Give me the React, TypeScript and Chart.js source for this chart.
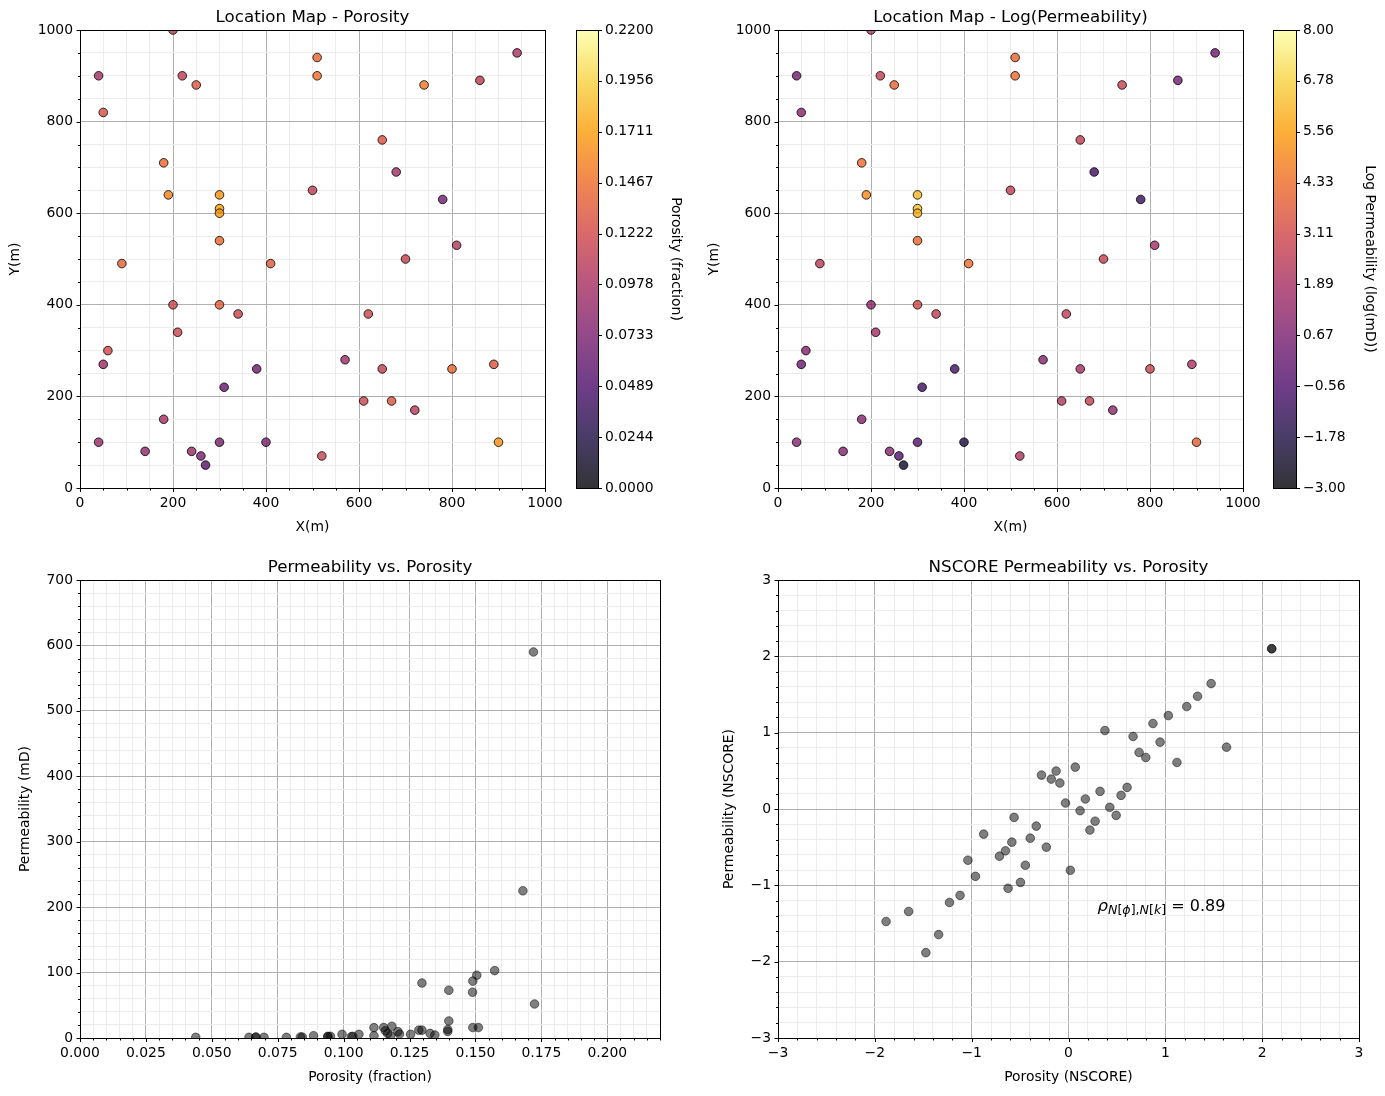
import React, { useEffect, useRef } from 'react';
import { Chart, registerables } from 'chart.js';

Chart.register(...registerables);

// ---------------- data ----------------
const wellX = [200, 40, 220, 250, 50, 510, 510, 740, 860, 940, 650, 180, 680, 190, 300, 300, 300, 500, 780, 300,
  810, 90, 410, 700, 200, 300, 340, 620, 210, 60, 50, 570, 380, 650, 800, 890, 310, 610, 670, 720,
  180, 40, 140, 240, 260, 270, 300, 400, 520, 900];
const wellY = [1000, 900, 900, 880, 820, 940, 900, 880, 890, 950, 760, 710, 690, 640, 640, 610, 600, 650, 630, 540,
  530, 490, 490, 500, 400, 400, 380, 380, 340, 300, 270, 280, 260, 260, 260, 270, 220, 190, 190, 170,
  150, 100, 80, 80, 70, 50, 100, 100, 70, 100];
const wellPorosity = [0.112, 0.095, 0.112, 0.132, 0.128, 0.142, 0.148, 0.152, 0.110, 0.100, 0.130, 0.143, 0.094, 0.158, 0.165, 0.172, 0.168, 0.112, 0.068, 0.143,
  0.105, 0.138, 0.133, 0.115, 0.120, 0.137, 0.118, 0.118, 0.120, 0.122, 0.092, 0.092, 0.065, 0.113, 0.142, 0.130, 0.062, 0.120, 0.130, 0.108,
  0.097, 0.090, 0.085, 0.090, 0.072, 0.055, 0.072, 0.072, 0.118, 0.165];
const wellLogPerm = [2.4, 0.4, 2.7, 4.1, 1.1, 4.1, 4.3, 2.8, 0.4, 0.3, 2.7, 4.3, -0.8, 5.0, 6.2, 6.4, 6.0, 2.7, -1.1, 4.2,
  1.8, 2.5, 4.3, 2.8, 1.2, 3.1, 2.6, 2.6, 1.8, 0.9, 0.3, 0.9, -0.8, 1.9, 2.9, 2.0, -0.9, 2.2, 2.7, 1.3,
  1.0, 1.0, 0.9, 1.0, -0.4, -2.3, -0.3, -1.8, 2.1, 3.9];

const crossPorosity = [0.0439, 0.0641, 0.0667, 0.0667, 0.0698, 0.0783, 0.0836, 0.0843, 0.0886, 0.094, 0.094, 0.095,
  0.0994, 0.1029, 0.1035, 0.1058, 0.1115, 0.1115, 0.1152, 0.1158, 0.1167, 0.1178, 0.1183, 0.1206, 0.1212, 0.1254,
  0.1285, 0.1297, 0.1297, 0.1328, 0.1346, 0.1395, 0.1395, 0.1399, 0.1399, 0.1489, 0.149, 0.1505, 0.149, 0.1511,
  0.1573, 0.1724, 0.168, 0.172];
const crossPerm = [1, 1, 1, 1.5, 1, 1, 1.5, 1.5, 3.5, 2.5, 2, 2.5,
  5.6, 2, 2.5, 5.6, 15.8, 3.5, 16, 11, 7, 3.5, 18, 9.7, 6, 5.6,
  12, 84, 12, 7, 4.6, 13, 10, 26, 73, 70, 87, 96, 16, 16,
  103, 52, 225, 590];

const nsPorosity = [2.097, 2.1, 1.473, 1.333, 1.221, 1.031, 0.872, 0.376, 0.667, 0.946, 0.729, 0.798, 1.632, 1.12,
  -0.279, -0.128, -0.178, -0.089, 0.07, 0.605, 0.326, 0.543, 0.174, -0.031, 0.426, 0.12, 0.492, -0.562, 0.275,
  0.221, -0.333, -0.876, -0.395, -0.585, -0.651, -0.713, -0.229, -1.039, 0.019, -0.446, -0.961, -0.496, -0.624,
  -1.12, -1.229, -1.651, -1.884, -1.341, -1.473];
const nsPerm = [2.1, 2.1, 1.643, 1.477, 1.342, 1.224, 1.12, 1.028, 0.95, 0.876, 0.741, 0.675, 0.81, 0.61,
  0.444, 0.497, 0.392, 0.34, 0.549, 0.283, 0.231, 0.179, 0.131, 0.078, 0.022, -0.022, -0.083, -0.11, -0.16,
  -0.276, -0.224, -0.329, -0.382, -0.434, -0.548, -0.618, -0.5, -0.671, -0.803, -0.737, -0.882, -0.961, -1.039,
  -1.132, -1.224, -1.342, -1.474, -1.645, -1.882];

const mapTicks = [0, 200, 400, 600, 800, 1000];
const porTicks = [0, 0.025, 0.05, 0.075, 0.1, 0.125, 0.15, 0.175, 0.2];
const permTicks = [0, 100, 200, 300, 400, 500, 600, 700];
const nsTicks = [-3, -2, -1, 0, 1, 2, 3];
const porCbTicks = [0, 0.0244, 0.0489, 0.0733, 0.0978, 0.1222, 0.1467, 0.1711, 0.1956, 0.22];
const permCbTicks = [-3, -1.78, -0.56, 0.67, 1.89, 3.11, 4.33, 5.56, 6.78, 8];
const rhoValue = '0.89';

// ---------------- styling helpers ----------------
const W = 1385;
const H = 1096;
const FAM = "'DejaVu Sans', 'Liberation Sans', sans-serif";
const TICK_PX = 13.9;
const TITLE_PX = 16.7;

const INFERNO = ['#000004', '#1b0c42', '#4b0c6b', '#781c6d', '#a52c60', '#cf4446', '#ed6925', '#fb9b06', '#f7d13d', '#fcffa4'];
const hex = (h: string) => [parseInt(h.slice(1, 3), 16), parseInt(h.slice(3, 5), 16), parseInt(h.slice(5, 7), 16)];
const INF_RGB = INFERNO.map(hex);
function inferno(t: number, a = 0.8) {
  const c = Math.max(0, Math.min(1, t)) * 9;
  const i = Math.min(8, Math.floor(c));
  const f = c - i;
  const p = INF_RGB[i], q = INF_RGB[i + 1];
  const r = Math.round(p[0] + (q[0] - p[0]) * f);
  const g = Math.round(p[1] + (q[1] - p[1]) * f);
  const b = Math.round(p[2] + (q[2] - p[2]) * f);
  return `rgba(${r},${g},${b},${a})`;
}

const minus = (s: string) => s.replace('-', '\u2212');

type Ax = { min: number; max: number; majors: number[]; step: number; fmt: (v: number) => string; all: number[]; isMajor: (v: number) => boolean };
function mkAx(min: number, max: number, majors: number[], step: number, fmt: (v: number) => string): Ax {
  const n = Math.round((max - min) / step);
  const all: number[] = [];
  for (let k = 0; k <= n; k++) all.push(+(min + k * step).toFixed(10));
  const isMajor = (v: number) => majors.some((m) => Math.abs(m - v) < step * 1e-3);
  return { min, max, majors, step, fmt, all, isMajor };
}

function scaleOpts(ax: Ax, pos: 'x' | 'y', size: number, title: string, titlePad: number) {
  return {
    type: 'linear',
    position: pos === 'x' ? 'bottom' : 'left',
    min: ax.min,
    max: ax.max,
    afterBuildTicks: (s: any) => { s.ticks = ax.all.map((v) => ({ value: v })); },
    afterFit: (s: any) => { if (pos === 'x') s.height = size; else s.width = size; },
    ticks: {
      autoSkip: false, maxRotation: 0, minRotation: 0, padding: 7,
      font: { family: FAM, size: TICK_PX }, color: '#000',
      callback: (v: any) => (ax.isMajor(+v) ? ax.fmt(+v) : ''),
    },
    grid: {
      drawTicks: false,
      lineWidth: 1,
      color: (c: any) => (c.tick && !ax.isMajor(c.tick.value) ? '#ececec' : '#b0b0b0'),
    },
    border: { display: false },
    title: {
      display: true, text: title, color: '#000',
      font: { family: FAM, size: TICK_PX },
      padding: pos === 'x' ? { top: 0, bottom: 0 } : { top: titlePad, bottom: 0 },
    },
  };
}

function framePlugin(id: string, title: string, xa: Ax, ya: Ax, extra?: (c: any) => void) {
  return {
    id,
    afterDraw(chart: any) {
      const { ctx, chartArea: a } = chart;
      const xs = chart.scales.x, ys = chart.scales.y;
      ctx.save();
      ctx.strokeStyle = '#000';
      ctx.lineWidth = 1;
      ctx.beginPath();
      xs.ticks.forEach((t: any) => {
        const p = Math.round(xs.getPixelForValue(t.value)) + 0.5;
        const len = xa.isMajor(t.value) ? 3.5 : 2;
        ctx.moveTo(p, Math.round(a.bottom));
        ctx.lineTo(p, Math.round(a.bottom) + len + 0.5);
      });
      ys.ticks.forEach((t: any) => {
        const p = Math.round(ys.getPixelForValue(t.value)) + 0.5;
        const len = ya.isMajor(t.value) ? 3.5 : 2;
        ctx.moveTo(Math.round(a.left) + 1, p);
        ctx.lineTo(Math.round(a.left) - len, p);
      });
      ctx.stroke();
      ctx.strokeRect(Math.round(a.left) + 0.5, Math.round(a.top) + 0.5,
        Math.round(a.right) - Math.round(a.left), Math.round(a.bottom) - Math.round(a.top));
      ctx.fillStyle = '#000';
      ctx.font = `${TITLE_PX}px ${FAM}`;
      ctx.textAlign = 'center';
      ctx.textBaseline = 'alphabetic';
      ctx.fillText(title, (a.left + a.right) / 2, a.top - 8);
      ctx.restore();
      if (extra) extra(chart);
    },
  };
}

function baseOptions(pad: { left: number; right: number; top: number; bottom: number }) {
  return {
    responsive: false,
    animation: false,
    devicePixelRatio: 1,
    events: [],
    layout: { padding: pad },
    plugins: { legend: { display: false }, tooltip: { enabled: false }, title: { display: false } },
  } as any;
}

function scatterChart(opts: {
  pad: any; xa: Ax; ya: Ax; xTitle: string; yTitle: string; yTitlePad: number; title: string;
  xs: number[]; ys: number[]; fill: any; border: string; radius: number; extra?: (c: any) => void; id: string;
}) {
  const o = baseOptions(opts.pad);
  o.scales = {
    x: scaleOpts(opts.xa, 'x', 48, opts.xTitle, 0),
    y: scaleOpts(opts.ya, 'y', 80, opts.yTitle, opts.yTitlePad),
  };
  return {
    type: 'scatter',
    data: {
      datasets: [{
        data: opts.xs.map((x, i) => ({ x, y: opts.ys[i] })),
        pointBackgroundColor: opts.fill,
        pointBorderColor: opts.border,
        pointBorderWidth: 1,
        pointRadius: opts.radius,
        showLine: false,
        clip: 0,
      }],
    },
    options: o,
    plugins: [framePlugin(opts.id, opts.title, opts.xa, opts.ya, opts.extra)],
  } as any;
}

function colorbarChart(opts: { pad: any; width: number; min: number; max: number; ticks: number[]; fmt: (v: number) => string; title: string; titlePad: number; id: string }) {
  const o = baseOptions(opts.pad);
  o.scales = {
    x: { display: false, min: 0, max: 1 },
    y: {
      type: 'linear', position: 'right', min: opts.min, max: opts.max,
      afterBuildTicks: (s: any) => { s.ticks = opts.ticks.map((v) => ({ value: v })); },
      afterFit: (s: any) => { s.width = opts.width; },
      ticks: { autoSkip: false, padding: 7, font: { family: FAM, size: TICK_PX }, color: '#000', callback: (v: any) => opts.fmt(+v) },
      grid: { display: false, drawTicks: false },
      border: { display: false },
      title: { display: true, text: opts.title, color: '#000', font: { family: FAM, size: TICK_PX }, padding: { top: opts.titlePad, bottom: 0 } },
    },
  };
  const plugin = {
    id: opts.id,
    beforeDraw(chart: any) {
      const { ctx, chartArea: a } = chart;
      const ys = chart.scales.y;
      ctx.save();
      const g = ctx.createLinearGradient(0, a.bottom, 0, a.top);
      INFERNO.forEach((_, k) => g.addColorStop(k / 9, inferno(k / 9)));
      ctx.fillStyle = g;
      ctx.fillRect(a.left, a.top, a.right - a.left, a.bottom - a.top);
      ctx.strokeStyle = '#000';
      ctx.lineWidth = 1;
      ctx.strokeRect(Math.round(a.left) + 0.5, Math.round(a.top) + 0.5,
        Math.round(a.right) - Math.round(a.left), Math.round(a.bottom) - Math.round(a.top));
      ctx.beginPath();
      ys.ticks.forEach((t: any) => {
        const p = Math.round(ys.getPixelForValue(t.value)) + 0.5;
        ctx.moveTo(Math.round(a.right), p);
        ctx.lineTo(Math.round(a.right) + 4, p);
      });
      ctx.stroke();
      ctx.restore();
    },
  };
  return { type: 'scatter', data: { datasets: [] }, options: o, plugins: [plugin] } as any;
}

function rhoAnnotation(chart: any) {
  const { ctx } = chart;
  const xs = chart.scales.x, ys = chart.scales.y;
  let cx = xs.getPixelForValue(0.3);
  const by = ys.getPixelForValue(-1.33);
  const sub = 12.6;
  const parts: [string, boolean, number, number][] = [
    ['\u03c1', true, 16.5, 0],
    ['N', true, sub, 3.5], ['[', false, sub, 3.5], ['\u03d5', true, sub, 3.5], ['],', false, sub, 3.5],
    ['N', true, sub, 3.5], ['[', false, sub, 3.5], ['k', true, sub, 3.5], [']', false, sub, 3.5],
    [' = ' + rhoValue, false, 16, 0],
  ];
  ctx.save();
  ctx.fillStyle = '#000';
  ctx.textAlign = 'left';
  ctx.textBaseline = 'alphabetic';
  parts.forEach(([t, it, sz, dy]) => {
    ctx.font = `${it ? 'italic ' : ''}${sz}px ${FAM}`;
    ctx.fillText(t, cx, by + dy);
    cx += ctx.measureText(t).width;
  });
  ctx.restore();
}

export default function App() {
  const r0 = useRef<HTMLCanvasElement>(null);
  const r1 = useRef<HTMLCanvasElement>(null);
  const r2 = useRef<HTMLCanvasElement>(null);
  const r3 = useRef<HTMLCanvasElement>(null);
  const r4 = useRef<HTMLCanvasElement>(null);
  const r5 = useRef<HTMLCanvasElement>(null);
  const refs = [r0, r1, r2, r3, r4, r5];

  useEffect(() => {
    Chart.defaults.font.family = FAM;
    Chart.defaults.color = '#000';
    const mapX = mkAx(0, 1000, mapTicks, 50, (v) => String(v));
    const mapY = mkAx(0, 1000, mapTicks, 50, (v) => String(v));
    const porX = mkAx(0, 0.22, porTicks, 0.005, (v) => v.toFixed(3));
    const permY = mkAx(0, 700, permTicks, 20, (v) => String(v));
    const nsX = mkAx(-3, 3, nsTicks, 0.2, (v) => minus(String(Math.round(v))));
    const nsY = mkAx(-3, 3, nsTicks, 0.2, (v) => minus(String(Math.round(v))));

    const cfgs = [
      scatterChart({
        id: 'f0', pad: { left: 0, right: W - 545, top: 30, bottom: H - 488 - 48 }, xa: mapX, ya: mapY,
        xTitle: 'X(m)', yTitle: 'Y(m)', yTitlePad: 7, title: 'Location Map - Porosity',
        xs: wellX, ys: wellY, fill: wellPorosity.map((v) => inferno(v / 0.22)), border: 'rgba(0,0,0,0.8)', radius: 4.3,
      }),
      scatterChart({
        id: 'f1', pad: { left: 698, right: W - 1243, top: 30, bottom: H - 488 - 48 }, xa: mapX, ya: mapY,
        xTitle: 'X(m)', yTitle: 'Y(m)', yTitlePad: 8, title: 'Location Map - Log(Permeability)',
        xs: wellX, ys: wellY, fill: wellLogPerm.map((v) => inferno((v + 3) / 11)), border: 'rgba(0,0,0,0.8)', radius: 4.3,
      }),
      scatterChart({
        id: 'f2', pad: { left: 0, right: W - 660, top: 580, bottom: H - 1038 - 48 }, xa: porX, ya: permY,
        xTitle: 'Porosity (fraction)', yTitle: 'Permeability (mD)', yTitlePad: 17, title: 'Permeability vs. Porosity',
        xs: crossPorosity, ys: crossPerm, fill: 'rgba(0,0,0,0.5)', border: 'rgba(0,0,0,0.5)', radius: 4.3,
      }),
      scatterChart({
        id: 'f3', pad: { left: 698, right: W - 1359, top: 580, bottom: H - 1038 - 48 }, xa: nsX, ya: nsY,
        xTitle: 'Porosity (NSCORE)', yTitle: 'Permeability (NSCORE)', yTitlePad: 23, title: 'NSCORE Permeability vs. Porosity',
        xs: nsPorosity, ys: nsPerm, fill: 'rgba(0,0,0,0.5)', border: 'rgba(0,0,0,0.5)', radius: 4.3, extra: rhoAnnotation,
      }),
      colorbarChart({
        id: 'cb0', pad: { left: 576, right: W - 698, top: 30, bottom: H - 488 }, width: 100, min: 0, max: 0.22,
        ticks: porCbTicks, fmt: (v) => v.toFixed(4), title: 'Porosity (fraction)', titlePad: 14,
      }),
      colorbarChart({
        id: 'cb1', pad: { left: 1273, right: 0, top: 30, bottom: H - 488 }, width: W - 1296, min: -3, max: 8,
        ticks: permCbTicks, fmt: (v) => minus(v.toFixed(2)), title: 'Log Permeability (log(mD))', titlePad: 7,
      }),
    ];
    const charts = cfgs.map((c, i) => new Chart(refs[i].current as HTMLCanvasElement, c));
    return () => charts.forEach((c) => c.destroy());
  }, []);

  return (
    <div style={{ position: 'absolute', left: 0, top: 0, width: W, height: H, background: '#fff' }}>
      {refs.map((r, i) => (
        <canvas key={i} ref={r} width={W} height={H}
          style={{ position: 'absolute', left: 0, top: 0, width: W, height: H, pointerEvents: 'none' }} />
      ))}
    </div>
  );
}
